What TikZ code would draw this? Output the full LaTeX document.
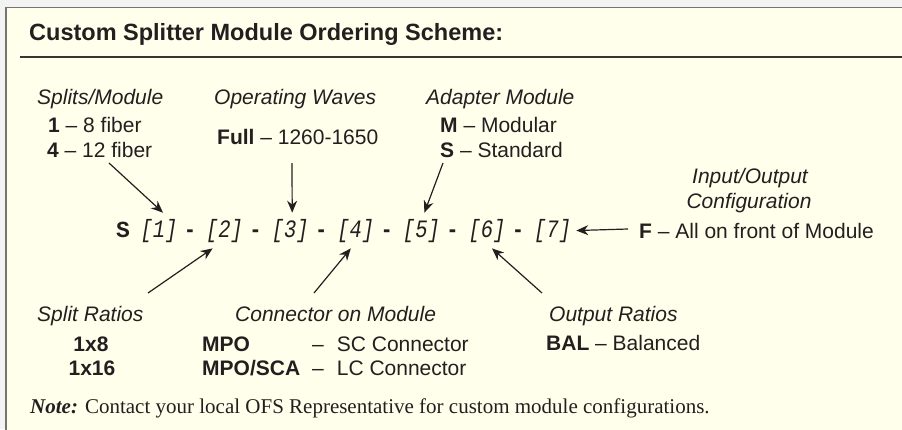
\documentclass[tikz,border=0pt]{standalone}
\usepackage{fontspec}
\setmainfont{Liberation Serif}
\setsansfont{Liberation Sans}
\setmonofont{Liberation Mono}
\newfontfamily\slotfont[FakeStretch=0.82]{Liberation Mono}
\usetikzlibrary{arrows.meta}
\definecolor{cream}{HTML}{FFFFEB}
\definecolor{ink}{HTML}{231F20}
\definecolor{edgegray}{HTML}{747474}
\definecolor{bggray}{HTML}{F3F3F3}

\begin{document}
\begin{tikzpicture}[x=1pt,y=-1pt,
    txt/.style={anchor=base west,inner sep=0pt,text=ink,font=\sffamily\fontsize{21}{25}\selectfont},
    lblit/.style={txt,font=\sffamily\itshape\fontsize{21}{25}\selectfont},
    slot/.style={anchor=base,inner xsep=0pt,inner ysep=6pt,text=ink,font=\slotfont\itshape\fontsize{25}{29}\selectfont},
    dashsym/.style={anchor=base,inner sep=0pt,text=ink,font=\slotfont\bfseries\fontsize{24}{28}\selectfont},
    arr/.style={draw=ink,line width=1.2pt,-{Stealth[length=12pt,width=10pt]}}]
    \useasboundingbox (0,0) rectangle (902,429);
    \clip (0,0) rectangle (902,429);
    % panel
    \fill[fill=bggray] (0,0) rectangle (902,429);
    \draw[draw=edgegray,fill=cream,line width=1.5pt] (6,7.5) rectangle (912,440);
    \draw[draw=ink!90,line width=2pt] (20,57) -- (912,57);
    \node[txt,font=\sffamily\bfseries\fontsize{23.5}{28}\selectfont] (title) at (29,40) {Custom Splitter Module Ordering Scheme:};

    % code line
    \node[anchor=base west,inner sep=0pt,text=ink,font=\ttfamily\bfseries\fontsize{23}{27}\selectfont] (S) at (116,237) {S};
    \node[slot] (b1) at (159,237) {[1]};
    \node[dashsym] (d1) at (190,237) {-};
    \node[slot] (b2) at (224.6,237) {[2]};
    \node[dashsym] (d2) at (255.6,237) {-};
    \node[slot] (b3) at (290.2,237) {[3]};
    \node[dashsym] (d3) at (321.2,237) {-};
    \node[slot] (b4) at (355.8,237) {[4]};
    \node[dashsym] (d4) at (386.8,237) {-};
    \node[slot] (b5) at (421.4,237) {[5]};
    \node[dashsym] (d5) at (452.4,237) {-};
    \node[slot] (b6) at (487,237) {[6]};
    \node[dashsym] (d6) at (518,237) {-};
    \node[slot] (b7) at (552.6,237) {[7]};

    % upper labels
    \node[lblit] (splits) at (37,104) {Splits/Module};
    \node[txt] (fib8) at (48,132) {\textbf{1} – 8 fiber};
    \node[txt] (fib12) at (47,157) {\textbf{4} – 12 fiber};
    \node[lblit] (waves) at (214,104) {Operating Waves};
    \node[txt] (full) at (217,144) {\textbf{Full} – 1260-1650};
    \node[lblit] (adapter) at (426,104) {Adapter Module};
    \node[txt] (modular) at (440,132) {\textbf{M} – Modular};
    \node[txt] (standard) at (440,157) {\textbf{S} – Standard};
    \node[lblit,anchor=base] (inout) at (750,183) {Input/Output};
    \node[lblit,anchor=base] (config) at (749,208) {Configuration};
    \node[txt] (front) at (639,238) {\textbf{F} – All on front of Module};

    % lower labels
    \node[lblit] (ratios) at (37,321) {Split Ratios};
    \node[txt,anchor=base] (r8) at (91,351) {\textbf{1x8}};
    \node[txt,anchor=base] (r16) at (92,375) {\textbf{1x16}};
    \node[lblit] (conn) at (235,321) {Connector on Module};
    \node[txt] (mpo) at (202,351) {\textbf{MPO}};
    \node[txt] (mposca) at (202,375) {\textbf{MPO/SCA}};
    \node[txt] (sc) at (312,351) {–\hspace{13pt}SC Connector};
    \node[txt] (lc) at (312,375) {–\hspace{13pt}LC Connector};
    \node[lblit] (output) at (549,321) {Output Ratios};
    \node[txt] (bal) at (546,350) {\textbf{BAL} – Balanced};

    \node[anchor=base west,inner sep=0pt,text=ink,font=\rmfamily\fontsize{21}{25}\selectfont] (note) at (30,413)
        {\textbf{\textit{Note:}} Contact your local OFS Representative for custom module configurations.};

    % arrows
    \coordinate (t1) at (109,163);
    \coordinate (t3) at (292,163);
    \coordinate (t5) at (443,163);
    \coordinate (t7) at (628,229);
    \coordinate (t2) at (148,293);
    \coordinate (t4) at (314,293);
    \coordinate (t6) at (542,293);
    \draw[arr] (t1) -- ([xshift=4pt]b1.north);
    \draw[arr] (t3) -- ([xshift=2pt]b3.north);
    \draw[arr] (t5) -- ([xshift=3pt]b5.north);
    \draw[arr] (t2) -- ([xshift=-12pt]b2.south);
    \draw[arr] (t4) -- ([xshift=-5pt]b4.south);
    \draw[arr] (t6) -- ([xshift=5pt]b6.south);
    \draw[arr] (t7) -- ([xshift=5pt]b7.east);
\end{tikzpicture}
\end{document}
